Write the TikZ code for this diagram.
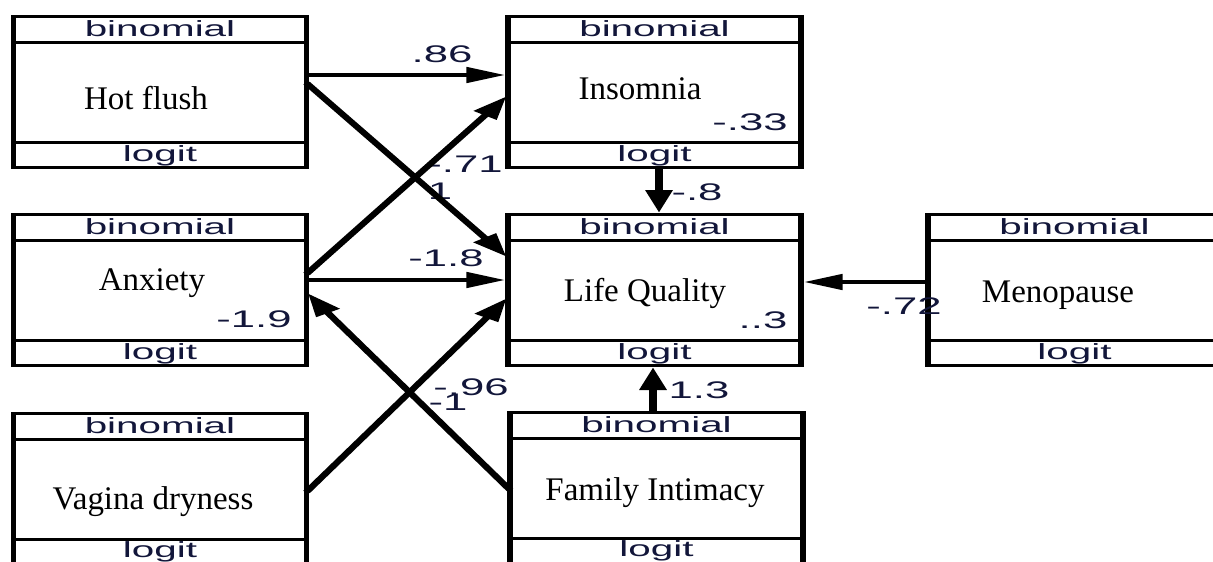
\documentclass[tikz,border=0pt]{standalone}
\usepackage{graphicx}
\usepackage{fontspec}
\setmainfont{Liberation Serif}
\newfontfamily\lsans{Liberation Sans}
\usetikzlibrary{arrows.meta}
\definecolor{ink}{RGB}{18,22,58}

% horizontal stretch of a piece of text
\newcommand{\wid}[2]{\scalebox{#1}[1]{#2}}

% a variable box: frame, two bands, distribution and link labels
\newcommand{\varbox}[2]{%
  \node[var] (#1) at (#2) {};
  \draw[band] ([yshift=-26pt]#1.north west) -- ([yshift=-26pt]#1.north east);
  \draw[band] ([yshift=25pt]#1.south west) -- ([yshift=25pt]#1.south east);
  \node[tag] (#1-dist) at ([yshift=-12.5pt]#1.north) {\wid{1.08}{binomial}};
  \node[tag, anchor=base] (#1-link) at ([yshift=6.5pt]#1.south) {\wid{1.08}{logit}};
}

\begin{document}
\begin{tikzpicture}
\useasboundingbox (0,0) rectangle (1213pt,-562pt);
\fill[white] (0,0) rectangle (1213pt,-562pt);

\begin{scope}[transform canvas={xscale=1.7}, x=0.588235pt, y=-1pt,
  var/.style={draw, line width=3pt, rectangle, minimum width=172.35pt,
    minimum height=151pt, inner sep=0pt, outer sep=0pt},
  band/.style={line width=3pt},
  tag/.style={font=\lsans\fontsize{22}{22}\selectfont, text=ink, inner sep=0pt},
  coef/.style={font=\lsans\fontsize{24}{24}\selectfont, text=ink, inner sep=0pt},
  vname/.style={font=\fontsize{33}{33}\selectfont, anchor=base, inner sep=0pt},
  link/.style={draw, line width=4.5pt, shorten >=1.5pt,
    -{Triangle[length=23pt,width=15pt]}}
]

% variables
\varbox{hot}{160,92}
\varbox{ins}{654.5,92}
\varbox{anx}{160,290}
\varbox{lq}{654.5,290}
\varbox{men}{1074.5,290}
\varbox{vag}{160,488.5}
\varbox{fam}{656.5,487.5}

% variable names
\node[vname] (hot-name) at (146,109) {\wid{0.5882}{Hot flush}};
\node[vname] (ins-name) at (640,99) {\wid{0.5882}{Insomnia}};
\node[vname] (anx-name) at (152,290) {\wid{0.5882}{Anxiety}};
\node[vname] (lq-name) at (645,301) {\wid{0.5882}{Life Quality}};
\node[vname] (men-name) at (1058,302) {\wid{0.5882}{Menopause}};
\node[vname] (vag-name) at (153,509) {\wid{0.5882}{Vagina dryness}};
\node[vname] (fam-name) at (655,500) {\wid{0.5882}{Family Intimacy}};

% intercepts and path coefficients
\node[coef] (c-ins) at (750,122) {\wid{1.07}{-.33}};
\node[coef] (c-anx) at (254,319) {\wid{1.07}{-1.9}};
\node[coef] (c-lq) at (763,320) {\wid{1.07}{..3}};
\node[coef] (c86) at (442,54) {\wid{1.07}{.86}};
\node[coef] (c71) at (465,164) {\wid{1.07}{-.71}};
\node[coef] (c1) at (440,191) {\wid{1.07}{1}};
\node[coef] (c8) at (697,192) {\wid{1.07}{-.8}};
\node[coef] (c18) at (446,258) {\wid{1.07}{-1.8}};
\node[coef] (c72) at (904,306) {\wid{1.07}{-.72}};
\node[coef] (c96) at (471,387) {\wid{1.07}{-.96}};
\node[coef] (cm1) at (448,402) {\wid{1.07}{-1}};
\node[coef] (c13) at (699,390) {\wid{1.07}{1.3}};

% paths
\draw[link] (hot.east |- 0,75) -- (ins.west |- 0,75);
\draw[link] (hot.east |- 0,83) -- (lq.west |- 0,258);
\draw[link] (anx.east |- 0,274) -- (ins.west |- 0,95);
\draw[link] (anx.east |- 0,280) -- (lq.west |- 0,280);
\draw[link] (fam.west |- 0,490) -- (anx.east |- 0,292);
\draw[link] (vag.east |- 0,492) -- (lq.west |- 0,297);
\draw[link] (ins.south -| 659,0) -- (lq.north -| 659,0);
\draw[link] (fam.north -| 653,0) -- (lq.south -| 653,0);
\draw[link] (men.west |- 0,282) -- (lq.east |- 0,282);
\end{scope}
\end{tikzpicture}
\end{document}
